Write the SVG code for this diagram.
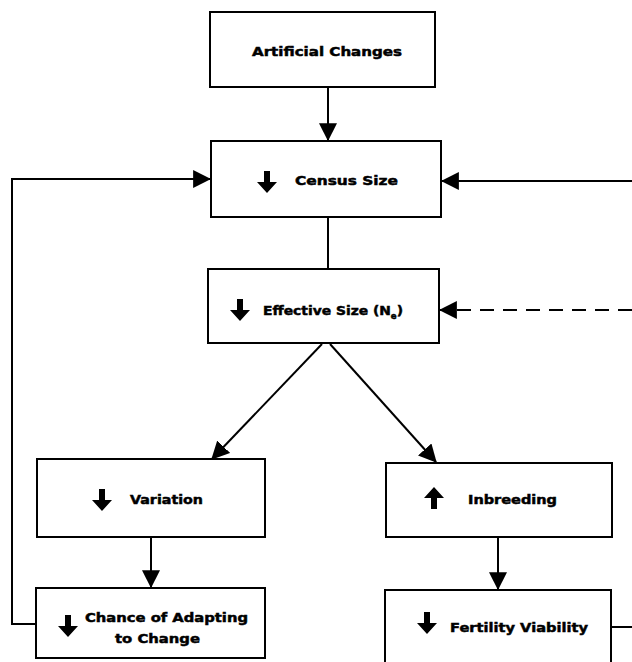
<svg xmlns="http://www.w3.org/2000/svg" width="632" height="662" viewBox="0 0 632 662">
<style>
.box{fill:#fff;stroke:#000;stroke-width:2}
.lbl{font-family:"DejaVu Sans",sans-serif;font-weight:bold;font-size:13px;fill:#000;stroke:#000;stroke-width:0.5}
.con{fill:none;stroke:#000;stroke-width:2}
.dash{stroke-dasharray:14,9}
</style>
<defs>
<marker id="ah" markerUnits="userSpaceOnUse" markerWidth="18" markerHeight="18" viewBox="0 0 16 16" refX="15" refY="8" orient="auto">
<path d="M0,0 L16,8 L0,16 Z" fill="#000"/>
</marker>
<path id="dn" d="M-3,-11 H3 V0 H10 L0,11 L-10,0 H-3 Z" fill="#000"/>
</defs>
<rect width="632" height="662" fill="#fff"/>
<g id="connectors">
<line class="con" x1="328" y1="88" x2="328" y2="140" marker-end="url(#ah)"/>
<line class="con" x1="328" y1="218" x2="328" y2="269"/>
<polyline class="con" points="37,624 12,624 12,179 210,179" marker-end="url(#ah)"/>
<line class="con" x1="632" y1="181" x2="442" y2="181" marker-end="url(#ah)"/>
<line class="con dash" x1="632" y1="310" x2="440" y2="310" marker-end="url(#ah)"/>
<line class="con" x1="322" y1="344" x2="212" y2="459" marker-end="url(#ah)"/>
<line class="con" x1="330" y1="344" x2="436" y2="462" marker-end="url(#ah)"/>
<line class="con" x1="151" y1="538" x2="151" y2="587" marker-end="url(#ah)"/>
<line class="con" x1="498" y1="538" x2="498" y2="589" marker-end="url(#ah)"/>
<line class="con" x1="611" y1="627" x2="632" y2="627"/>
</g>
<g id="artificial">
<rect class="box" x="210" y="12" width="225" height="75"/>
<text class="lbl" x="252" y="56" textLength="150" lengthAdjust="spacingAndGlyphs">Artificial Changes</text>
</g>
<g id="census">
<rect class="box" x="211" y="141" width="230" height="76"/>
<use href="#dn" x="267" y="182"/>
<text class="lbl" x="295" y="185" textLength="103" lengthAdjust="spacingAndGlyphs">Census Size</text>
</g>
<g id="effective">
<rect class="box" x="208" y="269" width="231" height="74"/>
<use href="#dn" x="240" y="310"/>
<text class="lbl" x="263" y="315" textLength="140" lengthAdjust="spacingAndGlyphs">Effective Size (N<tspan font-size="8" dy="4">e</tspan><tspan dy="-4">)</tspan></text>
</g>
<g id="variation">
<rect class="box" x="37" y="459" width="228" height="78"/>
<use href="#dn" x="102" y="500"/>
<text class="lbl" x="130" y="504" textLength="73" lengthAdjust="spacingAndGlyphs">Variation</text>
</g>
<g id="inbreeding">
<rect class="box" x="386" y="463" width="226" height="74"/>
<use href="#dn" transform="translate(434,498) rotate(180)"/>
<text class="lbl" x="468" y="504" textLength="89" lengthAdjust="spacingAndGlyphs">Inbreeding</text>
</g>
<g id="chance">
<rect class="box" x="36" y="588" width="229" height="70"/>
<use href="#dn" x="68" y="626"/>
<text class="lbl" x="85" y="622" textLength="163" lengthAdjust="spacingAndGlyphs">Chance of Adapting</text>
<text class="lbl" x="115" y="643" textLength="85" lengthAdjust="spacingAndGlyphs">to Change</text>
</g>
<g id="fertility">
<rect class="box" x="385" y="590" width="226" height="80"/>
<use href="#dn" x="427" y="623"/>
<text class="lbl" x="450" y="632" textLength="138" lengthAdjust="spacingAndGlyphs">Fertility Viability</text>
</g>
</svg>
